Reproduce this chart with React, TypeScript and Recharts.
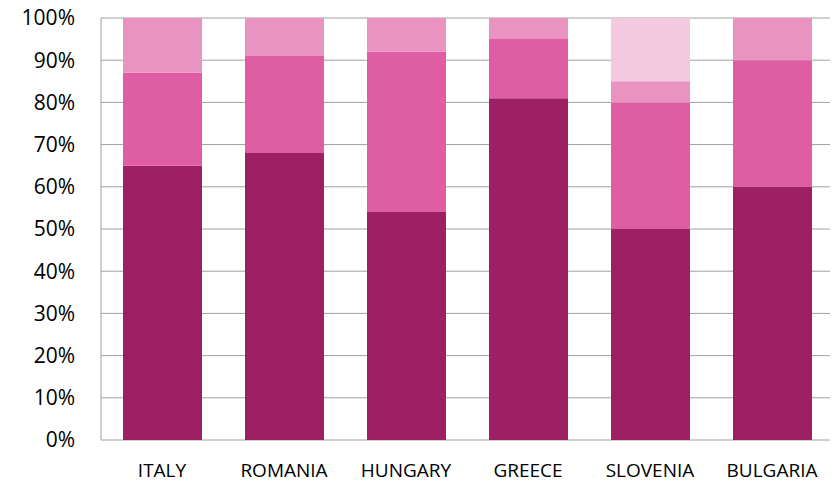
import React from "react";
import { BarChart, Bar, XAxis, YAxis, CartesianGrid } from "recharts";

const countries = ["ITALY", "ROMANIA", "HUNGARY", "GREECE", "SLOVENIA", "BULGARIA"];
const seriesA = [65, 68, 54, 81, 50, 60];
const seriesB = [22, 23, 38, 14, 30, 30];
const seriesC = [13, 9, 8, 5, 5, 10];
const seriesD = [0, 0, 0, 0, 15, 0];
const yTicks = [0, 10, 20, 30, 40, 50, 60, 70, 80, 90, 100];

const data = countries.map((c, i) => ({
  name: c,
  a: seriesA[i],
  b: seriesB[i],
  c: seriesC[i],
  d: seriesD[i],
}));

const font = "'Open Sans', sans-serif";

export default function App() {
  return (
    <div style={{ marginTop: -8, width: 850, height: 482 }}>
      <BarChart
        width={850}
        height={482}
        data={data}
        margin={{ top: 18, right: 13, bottom: 0, left: 0 }}
        barSize={79}
      >
        <CartesianGrid vertical={false} stroke="#a0a0a0" strokeWidth={1} />
        <XAxis
          dataKey="name"
          height={42}
          axisLine={false}
          tickLine={false}
          tickSize={0}
          tickMargin={24}
          padding={{ left: 0, right: 12 }}
          tick={{ fill: "#000", fontSize: 19, fontFamily: font }}
          interval={0}
        />
        <YAxis
          width={93}
          domain={[0, 100]}
          ticks={yTicks}
          tickFormatter={(v) => `${v}%`}
          axisLine={{ stroke: "#a0a0a0" }}
          tickLine={false}
          tickSize={0}
          tickMargin={26}
          tick={{ fill: "#000", fontSize: 21, fontFamily: font }}
          allowDataOverflow
        />
        <Bar dataKey="a" stackId="s" fill="#9E1F63" isAnimationActive={false} />
        <Bar dataKey="b" stackId="s" fill="#DE5DA3" isAnimationActive={false} />
        <Bar dataKey="c" stackId="s" fill="#EA92C0" isAnimationActive={false} />
        <Bar dataKey="d" stackId="s" fill="#F2C9DF" isAnimationActive={false} />
      </BarChart>
    </div>
  );
}
